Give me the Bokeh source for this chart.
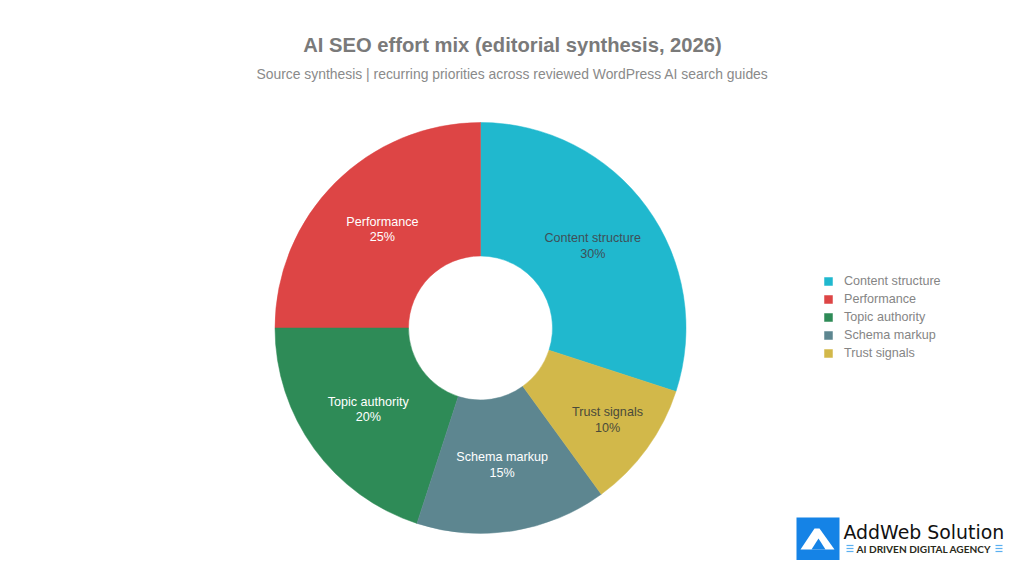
from math import pi, sin, cos

from bokeh.core.properties import value
from bokeh.embed import file_html
from bokeh.models import Legend, LegendItem, Range1d
from bokeh.plotting import figure
from bokeh.resources import INLINE

title_text = "AI SEO effort mix (editorial synthesis, 2026)"
subtitle_text = "Source synthesis | recurring priorities across reviewed WordPress AI search guides"

categories = ["Content structure", "Performance", "Topic authority", "Schema markup", "Trust signals"]
shares = [30, 25, 20, 15, 10]
colors = ["#20B8CE", "#DD4545", "#2E8B57", "#5D8690", "#D2B84A"]
label_colors = ["#3F4F57", "#FFFFFF", "#FFFFFF", "#FFFFFF", "#4A4A3A"]

FONT = "Liberation Sans"
W, H = 1008, 560
# the figure sits at the page corner, so ranges are page pixels
CX, CY = 480, 232.5
R_OUT, R_IN = 205.5, 72
START = -18 * pi / 180  # first slice begins here and the rest go counter clockwise


def py(y):
    # y measured down from the top of the page
    return H - y


p = figure(width=W, height=H, output_backend="svg", toolbar_location=None,
           x_range=Range1d(0, W), y_range=Range1d(0, H),
           min_border=0, outline_line_color=None)
p.xaxis.visible = False
p.yaxis.visible = False
p.grid.visible = False

# slices
total = sum(shares)
angle = START
items = []
for name, share, color, label_color in zip(categories, shares, colors, label_colors):
    end = angle + share / total * 2 * pi
    r = p.annular_wedge(x=CX, y=CY, inner_radius=R_IN, outer_radius=R_OUT,
                        start_angle=angle, end_angle=end,
                        fill_color=color, line_color=color, line_width=0.5)
    mid = (angle + end) / 2
    # narrow slice: label is pushed outwards so it fits
    rm = 157 if share <= 10 else (R_IN + R_OUT) / 2
    lx, ly = CX + rm * cos(mid), CY + rm * sin(mid)
    p.text(x=[lx], y=[ly + 8], text=[name], text_align="center", text_baseline="middle",
           text_font=value(FONT), text_font_size="12.6px", text_color=label_color)
    p.text(x=[lx], y=[ly - 7.5], text=[f"{share}%"], text_align="center", text_baseline="middle",
           text_font=value(FONT), text_font_size="12.6px", text_color=label_color)
    items.append(LegendItem(label=name, renderers=[r]))
    angle = end

# titles
p.text(x=[512], y=[py(44)], text=[title_text], text_align="center", text_baseline="middle",
       text_font=value(FONT), text_font_style="bold", text_font_size="20.2px", text_color="#7A7A7A")
p.text(x=[512], y=[py(73)], text=[subtitle_text], text_align="center", text_baseline="middle",
       text_font=value(FONT), text_font_size="13.9px", text_color="#8A8A8A")

# legend
legend = Legend(items=items, location=(823, 200), background_fill_alpha=0, border_line_color=None,
                label_text_font=FONT, label_text_font_size="12.6px", label_text_color="#858585",
                glyph_width=10, glyph_height=10, label_height=12, spacing=4,
                label_standoff=11, padding=0, margin=0)
p.add_layout(legend, "center")

# logo, bottom right
p.quad(left=796, right=839, top=py(517), bottom=py(560), fill_color="#1583E6", line_color=None)
p.patch(x=[800, 814, 819, 834], y=[py(549), py(528), py(528), py(549)],
        fill_color="#FFFFFF", line_color=None)
p.patch(x=[811, 818, 825], y=[py(549), py(538), py(549)], fill_color="#1583E6", line_color=None)
p.text(x=[843], y=[py(531)], text=["AddWeb Solution"], text_baseline="middle",
       text_font=value("DejaVu Sans"), text_font_size="18.9px", text_color="#111111")
p.text(x=[856], y=[py(548)], text=["AI DRIVEN DIGITAL AGENCY"], text_baseline="middle",
       text_font=value("Lato"), text_font_style="bold", text_font_size="10.1px",
       text_color="#2A2A1A")
for x0, x1 in [(846, 853), (995, 1002)]:
    p.multi_line(xs=[[x0, x1]] * 3, ys=[[py(545), py(545)], [py(548), py(548)], [py(551), py(551)]],
                 line_color="#5AB0F0", line_width=1.2)

open("out.html", "w").write(file_html(p, INLINE))
